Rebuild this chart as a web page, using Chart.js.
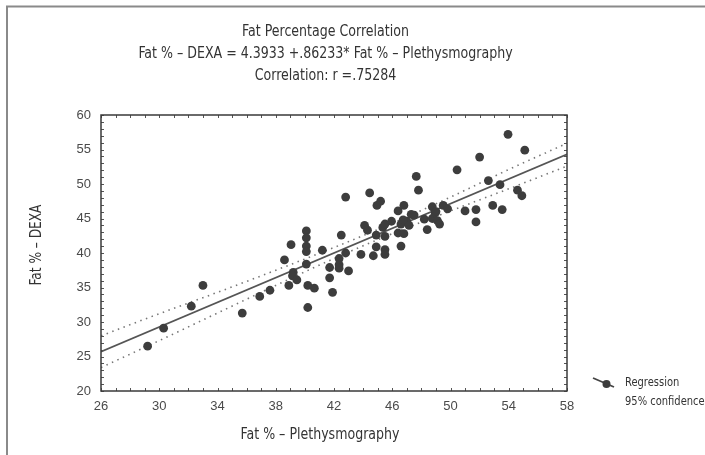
<!DOCTYPE html>
<html>
<head>
<meta charset="utf-8">
<script src="https://cdn.jsdelivr.net/npm/chart.js@4/dist/chart.umd.min.js"></script>
<style>
  html, body { margin: 0; padding: 0; background: #ffffff; }
  #wrap { width: 705px; height: 455px; position: relative; }
</style>
</head>
<body>
<div id="wrap"><canvas id="c" width="705" height="455"></canvas></div>
<script>
// ---- Data ----
const titleLines = ["Fat Percentage Correlation",
  "Fat % \u2013 DEXA = 4.3933 +.86233* Fat % \u2013 Plethysmography",
  "Correlation: r =.75284"];
const xTitle = "Fat % \u2013 Plethysmography";
const yTitle = "Fat % \u2013 DEXA";
const legendLabels = ["Regression", "95% confidence"];

const plethX = [29.2,30.3,32.2,33.0,35.7,36.9,37.6,38.6,39.05,38.9,39.2,39.15,39.45,40.1,40.1,40.1,40.1,40.1,40.2,40.65,40.2,41.2,41.7,41.7,41.9,42.35,42.35,42.35,42.5,42.8,42.8,43.0,43.85,44.1,44.3,44.45,44.7,44.9,44.9,44.95,45.2,45.35,45.5,45.5,45.5,45.5,45.95,46.4,46.4,46.6,46.6,46.8,46.8,47.0,47.15,47.3,47.5,47.65,47.8,48.2,48.4,48.75,48.75,48.95,49.1,49.25,49.5,49.8,50.45,51.0,51.75,51.75,52.0,52.6,52.9,53.4,53.55,53.95,54.6,54.9,55.1,46.75,49.0];
const dexaY = [26.5,29.1,32.3,35.3,31.3,33.7,34.6,39.0,41.2,35.3,37.2,36.7,36.1,43.2,42.2,41.0,40.2,38.4,35.3,34.9,32.1,40.4,37.9,36.4,34.3,39.2,38.3,37.8,42.6,48.1,40.0,37.4,39.8,44.0,43.3,48.7,39.6,42.6,40.9,46.9,47.5,43.7,44.2,42.4,40.5,39.8,44.6,46.1,42.9,44.2,41.0,46.9,42.8,44.6,44.0,45.6,45.5,51.1,49.1,44.9,43.4,46.7,45.0,45.8,44.7,44.2,46.9,46.4,52.05,46.1,46.3,44.5,53.9,50.5,46.9,49.9,46.3,57.2,49.1,48.3,54.9,44.8,46.0];

const regX = [26, 58];
const regY = [25.7, 54.3];

const bandX = [26, 30, 34, 38, 42, 46, 50, 54, 58];
const bandUpper = [28.0, 31.2, 34.3, 37.5, 40.8, 44.3, 48.1, 52.1, 55.9];
const bandLower = [23.4, 27.3, 31.3, 35.3, 39.2, 42.8, 46.1, 49.3, 52.6];

const xMin = 26, xMax = 58, xStep = 4;
const yMin = 20, yMax = 60, yStep = 5;

// ---- helpers ----
const pts = (xs, ys) => xs.map((x, i) => ({ x: x, y: ys[i] }));
const narrow = '"DejaVu Sans Condensed", "DejaVu Sans", sans-serif';

function drawText(ctx, text, x, y, size, sx, align) {
  ctx.save();
  ctx.translate(x, y);
  ctx.scale(sx, 1);
  ctx.font = size + 'px ' + narrow;
  ctx.textAlign = align;
  ctx.textBaseline = 'middle';
  ctx.fillText(text, 0, 0);
  ctx.restore();
}

const decor = {
  id: 'decor',
  beforeDatasetsDraw(chart) {
    const { ctx, chartArea: a, scales } = chart;
    const xs = scales.x, ys = scales.y;
    ctx.save();
    ctx.strokeStyle = '#555';
    ctx.lineWidth = 1;
    ctx.beginPath();
    for (let v = xMin; v <= xMax; v += 1) {
      const p = Math.round(xs.getPixelForValue(v)) + 0.5;
      ctx.moveTo(p, a.bottom); ctx.lineTo(p, a.bottom - 3);
      ctx.moveTo(p, a.top); ctx.lineTo(p, a.top + 3);
    }
    for (let v = yMin; v <= yMax; v += 1) {
      const p = Math.round(ys.getPixelForValue(v)) + 0.5;
      ctx.moveTo(a.left, p); ctx.lineTo(a.left + 3, p);
      ctx.moveTo(a.right, p); ctx.lineTo(a.right - 3, p);
    }
    ctx.stroke();
    ctx.restore();
  },
  afterDraw(chart) {
    const { ctx, chartArea: a } = chart;
    ctx.save();
    ctx.strokeStyle = '#3a3a3a';
    ctx.lineWidth = 1.5;
    ctx.strokeRect(a.left, a.top, a.right - a.left, a.bottom - a.top);
    ctx.strokeStyle = '#8a8a8a';
    ctx.lineWidth = 2;
    ctx.beginPath();
    ctx.moveTo(7, 455); ctx.lineTo(7, 6.5); ctx.lineTo(705, 6.5);
    ctx.stroke();

    ctx.fillStyle = '#333';
    const ty = [32, 54, 76];
    titleLines.forEach((t, i) => drawText(ctx, t, 325.5, ty[i], 16, 0.875, 'center'));
    drawText(ctx, xTitle, 320, 435, 16, 0.875, 'center');

    ctx.save();
    ctx.translate(37, 245);
    ctx.rotate(-Math.PI / 2);
    drawText(ctx, yTitle, 0, 0, 15, 0.9, 'center');
    ctx.restore();

    ctx.strokeStyle = '#444';
    ctx.lineWidth = 1.8;
    ctx.beginPath();
    ctx.moveTo(593, 378); ctx.lineTo(614, 387);
    ctx.stroke();
    ctx.fillStyle = '#3d3d3d';
    ctx.beginPath();
    ctx.arc(606.5, 384, 4, 0, Math.PI * 2);
    ctx.fill();
    ctx.fillStyle = '#333';
    drawText(ctx, legendLabels[0], 625, 383, 13, 0.85, 'left');
    drawText(ctx, legendLabels[1], 625, 402, 13, 0.85, 'left');
    ctx.restore();
  }
};

const lineStyle = {
  type: 'scatter', showLine: true, pointRadius: 0, pointHoverRadius: 0, fill: false
};

new Chart(document.getElementById('c'), {
  type: 'scatter',
  data: {
    datasets: [
      Object.assign({}, lineStyle, {
        label: 'upper', data: pts(bandX, bandUpper),
        borderColor: '#777', borderWidth: 1.6, borderDash: [1.5, 4.5],
        cubicInterpolationMode: 'monotone', order: 3
      }),
      Object.assign({}, lineStyle, {
        label: 'lower', data: pts(bandX, bandLower),
        borderColor: '#777', borderWidth: 1.6, borderDash: [1.5, 4.5],
        cubicInterpolationMode: 'monotone', order: 3
      }),
      Object.assign({}, lineStyle, {
        label: 'Regression', data: pts(regX, regY),
        borderColor: '#555', borderWidth: 1.6, order: 2
      }),
      {
        label: 'data', data: pts(plethX, dexaY),
        backgroundColor: '#3d3d3d', borderWidth: 0,
        pointRadius: 4.4, pointHoverRadius: 4.4, order: 1
      }
    ]
  },
  options: {
    responsive: false,
    animation: false,
    events: [],
    layout: { padding: { left: 0, right: 138, top: 115, bottom: 0 } },
    plugins: { legend: { display: false }, title: { display: false }, tooltip: { enabled: false } },
    scales: {
      x: {
        type: 'linear', min: xMin, max: xMax,
        grid: { display: false, drawTicks: false },
        border: { display: false },
        ticks: { stepSize: xStep, color: '#4a4a4a', padding: 8, font: { family: '"Liberation Sans", Arial, sans-serif', size: 13 } },
        afterFit(s) { s.height = 64; }
      },
      y: {
        type: 'linear', min: yMin, max: yMax,
        grid: { display: false, drawTicks: false },
        border: { display: false },
        ticks: { stepSize: yStep, color: '#4a4a4a', padding: 10, font: { family: '"Liberation Sans", Arial, sans-serif', size: 13 } },
        afterFit(s) { s.width = 101; }
      }
    }
  },
  plugins: [decor]
});
</script>
</body>
</html>
